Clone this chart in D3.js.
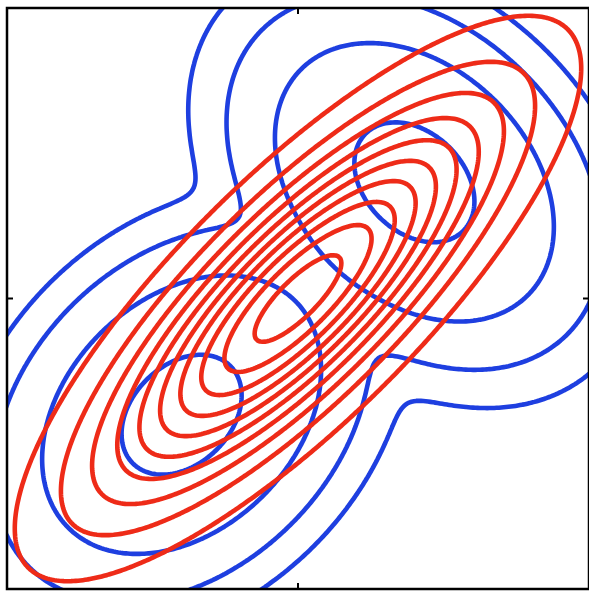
<!DOCTYPE html>
<html>
<head>
<meta charset="utf-8">
<script src="https://cdn.jsdelivr.net/npm/d3@7"></script>
<style>
  body { margin: 0; background: #fff; }
  svg { display: block; }
</style>
</head>
<body>
<div class="container_graph"></div>
<script>
// two gaussian components of p(Z): lower-left and upper-right
const compMeans = [[-0.4, -0.4], [0.4, 0.4]];
const compSdDiag = [0.22, 0.158]; // sd along the (1,1) direction
const compSdAnti = [0.158, 0.22]; // sd along the (-1,1) direction
const compWeights = [0.5, 0.5];

// blue levels: log of fraction of one component's peak
const blueLogLevels = [-0.58, -3.13, -5.68, -8.23];
// red levels: fraction of the peak of q(Z)
const redLevels = [0.09, 0.185, 0.28, 0.375, 0.47, 0.565, 0.66, 0.755, 0.85, 0.945];

const xTicks = [0];
const yTicks = [0];

// medidas
const width = 589;
const height = 591;
const plot = { left: 7, top: 8, right: 589, bottom: 589 };

const svg = d3
  .select(".container_graph")
  .append("svg")
  .attr("width", width)
  .attr("height", height)
  .style("background-color", "#fff");

const x = d3.scaleLinear().domain([-1, 1]).range([plot.left, plot.right]);
const y = d3.scaleLinear().domain([-1, 1]).range([plot.bottom, plot.top]);

// covariance of a component with axes on the diagonals
function compCov(i) {
  const a = compSdDiag[i] ** 2;
  const b = compSdAnti[i] ** 2;
  return [(a + b) / 2, (a - b) / 2, (a + b) / 2]; // xx, xy, yy
}

function gauss(px, py, mean, cov) {
  const [sxx, sxy, syy] = cov;
  const det = sxx * syy - sxy * sxy;
  const dx = px - mean[0];
  const dy = py - mean[1];
  const q = (syy * dx * dx - 2 * sxy * dx * dy + sxx * dy * dy) / det;
  return Math.exp(-0.5 * q) / (2 * Math.PI * Math.sqrt(det));
}

const mixture = (px, py) =>
  d3.sum(compMeans, (m, i) => compWeights[i] * gauss(px, py, m, compCov(i)));

// q(Z): single gaussian with the same mean and covariance as p(Z)
const qMean = [
  d3.sum(compMeans, (m, i) => compWeights[i] * m[0]),
  d3.sum(compMeans, (m, i) => compWeights[i] * m[1]),
];
const qCov = [0, 0, 0];
compMeans.forEach((m, i) => {
  const c = compCov(i);
  const w = compWeights[i];
  qCov[0] += w * (c[0] + (m[0] - qMean[0]) ** 2);
  qCov[1] += w * (c[1] + (m[0] - qMean[0]) * (m[1] - qMean[1]));
  qCov[2] += w * (c[2] + (m[1] - qMean[1]) ** 2);
});
const single = (px, py) => gauss(px, py, qMean, qCov);

// grid a bit larger than the box so nothing closes on the frame
const n = 320;
const g0 = -1.3;
const step = 2.6 / n;
const blueValues = new Array(n * n);
const redValues = new Array(n * n);
for (let j = 0; j < n; j++) {
  for (let i = 0; i < n; i++) {
    const px = g0 + i * step;
    const py = g0 + j * step;
    blueValues[j * n + i] = mixture(px, py);
    redValues[j * n + i] = single(px, py);
  }
}

const compPeak = compWeights[0] / (2 * Math.PI * compSdDiag[0] * compSdAnti[0]);
const qPeak = single(qMean[0], qMean[1]);

const blueThresholds = blueLogLevels.map((l) => compPeak * Math.exp(l));
const redThresholds = redLevels.map((l) => qPeak * l);

const proj = d3.geoTransform({
  point(cx, cy) {
    this.stream.point(x(g0 + (cx - 0.5) * step), y(g0 + (cy - 0.5) * step));
  },
});
const path = d3.geoPath(proj);

svg
  .append("clipPath")
  .attr("id", "box-clip")
  .append("rect")
  .attr("x", plot.left)
  .attr("y", plot.top)
  .attr("width", plot.right - plot.left)
  .attr("height", plot.bottom - plot.top);

const container = svg.append("g").attr("clip-path", "url(#box-clip)");

container
  .append("g")
  .selectAll("path")
  .data(d3.contours().size([n, n]).thresholds(blueThresholds)(blueValues))
  .join("path")
  .attr("d", path)
  .attr("fill", "none")
  .attr("stroke", "#1e3fe0")
  .attr("stroke-width", 4.6)
  .attr("stroke-linejoin", "round");

container
  .append("g")
  .selectAll("path")
  .data(d3.contours().size([n, n]).thresholds(redThresholds)(redValues))
  .join("path")
  .attr("d", path)
  .attr("fill", "none")
  .attr("stroke", "#ee2b18")
  .attr("stroke-width", 4.6)
  .attr("stroke-linejoin", "round");

// marco y ticks
svg
  .append("rect")
  .attr("x", plot.left)
  .attr("y", plot.top)
  .attr("width", plot.right - plot.left)
  .attr("height", plot.bottom - plot.top)
  .attr("fill", "none")
  .attr("stroke", "#000")
  .attr("stroke-width", 2.5);

const tickLen = 6;
const ticks = svg.append("g").attr("stroke", "#000").attr("stroke-width", 2);
xTicks.forEach((t) => {
  ticks.append("line").attr("x1", x(t)).attr("x2", x(t)).attr("y1", plot.bottom).attr("y2", plot.bottom - tickLen);
  ticks.append("line").attr("x1", x(t)).attr("x2", x(t)).attr("y1", plot.top).attr("y2", plot.top + tickLen);
});
yTicks.forEach((t) => {
  ticks.append("line").attr("x1", plot.left).attr("x2", plot.left + tickLen).attr("y1", y(t)).attr("y2", y(t));
  ticks.append("line").attr("x1", plot.right).attr("x2", plot.right - tickLen).attr("y1", y(t)).attr("y2", y(t));
});
</script>
</body>
</html>
